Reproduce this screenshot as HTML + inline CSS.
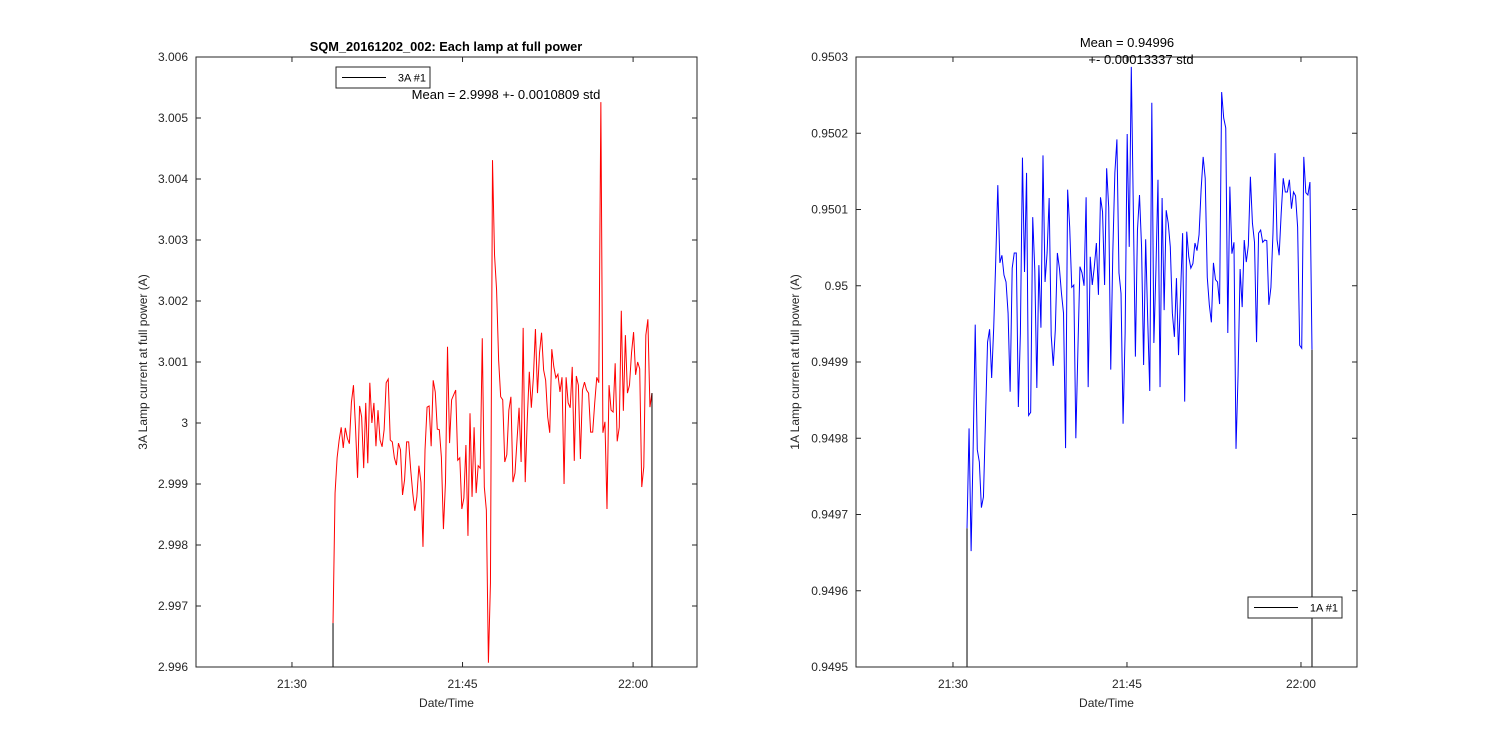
<!DOCTYPE html>
<html><head><meta charset="utf-8"><style>
html,body{margin:0;padding:0;background:#fff;}
svg{display:block;font-family:"Liberation Sans",Arial,sans-serif;}
</style></head><body>
<svg id="fig" width="1500" height="750" viewBox="0 0 1500 750" xmlns="http://www.w3.org/2000/svg">
<rect x="0" y="0" width="1500" height="750" fill="#fff"/>
<g id="left"></g>
<g id="right"></g>
</svg>
<script>
// ---- Left chart data (3A lamp) ----
const leftTimeRange = [3.61, 31.66]; // minutes after 21:30
const leftValues = [2.99672,2.99885,2.99943,2.99972,2.99993,2.99959,2.99992,2.99975,2.99966,3.00034,
3.00062,2.99993,2.99910,3.00028,3.00010,2.99926,3.00033,2.99934,3.00066,3.00000,
3.00033,2.99962,3.00021,2.99972,2.99961,2.99989,3.00066,3.00072,2.99972,2.99969,
2.99943,2.99931,2.99967,2.99956,2.99882,2.99907,2.99969,2.99969,2.99923,2.99885,
2.99856,2.99879,2.99930,2.99903,2.99797,2.99956,3.00026,3.00028,2.99962,3.00070,
3.00051,2.99990,2.99989,2.99944,2.99826,2.99902,3.00125,2.99967,3.00038,3.00046,
3.00054,2.99939,2.99943,2.99859,2.99877,2.99964,2.99815,3.00016,2.99879,2.99993,
2.99885,2.99930,2.99926,3.00139,2.99895,2.99857,2.99607,2.99738,3.00431,3.00275,
3.00218,3.00103,3.00043,
3.00038,2.99936,2.99948,3.00021,3.00043,2.99903,2.99918,2.99972,3.00025,2.99936,
3.00156,2.99903,3.00005,3.00084,3.00025,3.00075,3.00154,3.00049,3.00115,3.00148,
3.00087,3.00070,3.00010,2.99984,3.00121,3.00092,3.00074,3.00080,3.00051,3.00075,
2.99900,3.00075,3.00033,3.00025,3.00092,2.99938,3.00077,3.00062,2.99941,3.00054,
3.00067,3.00054,3.00049,2.99985,2.99985,3.00033,3.00075,3.00066,3.00526,2.99984,
3.00002,2.99859,3.00062,3.00021,3.00018,3.00098,2.99970,2.99993,3.00184,3.00020,
3.00144,3.00049,3.00062,3.00115,3.00149,3.00079,3.00100,3.00089,2.99895,2.99928,
3.00144,3.00170,3.00026,3.00049];
const leftYTicks = [2.996,2.997,2.998,2.999,3,3.001,3.002,3.003,3.004,3.005,3.006];
const leftYTickLabels = ["2.996","2.997","2.998","2.999","3","3.001","3.002","3.003","3.004","3.005","3.006"];
const xTicks = [0,15,30];
const xTickLabels = ["21:30","21:45","22:00"];

// ---- Right chart data (1A lamp) ----
const rightTimeRange = [1.21, 30.95];
const rightValues = [0.949682,0.949813,0.949652,0.949789,0.949949,0.949785,0.949769,0.949709,0.949723,0.949824,
0.949926,0.949943,0.949879,0.949945,0.950034,0.950132,0.950030,0.950040,0.950014,0.950005,
0.949964,0.949861,0.950023,0.950043,0.950043,0.949841,0.949938,0.950168,0.950018,0.950148,
0.949830,0.949834,0.950090,0.950021,0.949866,0.950027,0.949945,0.950171,0.950005,0.950043,
0.950115,0.949935,0.949895,0.949942,0.950043,0.950023,0.949990,0.949964,0.949787,0.950126,
0.950077,0.949998,0.950001,0.949800,0.949916,0.950025,0.950017,0.950000,0.950116,0.949867,
0.950038,0.950001,0.950025,0.950056,0.949988,0.950116,0.950097,0.950001,0.950154,0.950103,
0.949890,0.950044,0.950148,0.950192,0.950017,0.949990,0.949819,0.949938,0.950199,0.950051,
0.950287,
0.950099,0.949907,0.950073,0.950119,0.950051,0.949896,0.950061,0.949955,0.949862,0.950240,
0.949925,0.950021,0.950139,0.949867,0.950115,0.949968,0.950099,0.950082,0.950051,0.949964,
0.949933,0.950010,0.949909,0.949990,0.950069,0.949848,0.950071,0.950038,0.950023,0.950029,
0.950056,0.950046,0.950067,0.950126,0.950169,0.950141,0.950011,0.949975,0.949952,0.950030,
0.950008,0.950005,0.949976,0.950254,0.950220,0.950207,0.949938,0.950130,0.950042,0.950057,
0.949786,0.949883,0.950022,0.949972,0.950060,0.950031,0.950053,0.950143,0.950082,0.950057,
0.949926,0.950069,0.950073,0.950057,0.950060,0.950059,0.949975,0.949998,0.950069,0.950174,
0.950060,0.950040,0.950095,0.950141,0.950123,0.950123,0.950139,0.950101,0.950123,0.950118,
0.950077,0.949922,0.949918,0.950169,0.950122,0.950119,0.950136,0.949916];
const rightYTicks = [0.9495,0.9496,0.9497,0.9498,0.9499,0.95,0.9501,0.9502,0.9503];
const rightYTickLabels = ["0.9495","0.9496","0.9497","0.9498","0.9499","0.95","0.9501","0.9502","0.9503"];

const NS = "http://www.w3.org/2000/svg";
function mk(parent, tag, attrs, text){
  const e = document.createElementNS(NS, tag);
  for (const k in attrs) e.setAttribute(k, attrs[k]);
  if (text !== undefined) e.textContent = text;
  parent.appendChild(e);
  return e;
}

function drawChart(g, cfg){
  const L = cfg.box[0], T = cfg.box[1], R = cfg.box[2], B = cfg.box[3];
  const xs = t => L + (t - cfg.xlim[0]) / (cfg.xlim[1] - cfg.xlim[0]) * (R - L);
  const ys = v => B - (v - cfg.ylim[0]) / (cfg.ylim[1] - cfg.ylim[0]) * (B - T);
  const clip = "clip-" + cfg.id;
  const defs = mk(g, "defs", {});
  const cp = mk(defs, "clipPath", {id: clip});
  mk(cp, "rect", {x: L, y: T, width: R - L, height: B - T});

  const n = cfg.values.length;
  const t0 = cfg.trange[0], t1 = cfg.trange[1];
  let d = "";
  cfg.values.forEach((v, i) => {
    const t = t0 + i * (t1 - t0) / (n - 1);
    d += (i ? "L" : "M") + xs(t).toFixed(2) + "," + ys(v).toFixed(2);
  });
  const line = mk(g, "path", {d: d, fill: "none", stroke: cfg.color, "stroke-width": 1, "clip-path": "url(#" + clip + ")"});
  
  
  const sx = xs(t0), ex = xs(t1);
  const s1 = mk(g, "line", {x1: sx, y1: B, x2: sx, y2: ys(cfg.values[0]), stroke: "#000", "stroke-width": 1});
  
  
  const s2 = mk(g, "line", {x1: ex, y1: ys(cfg.values[n - 1]), x2: ex, y2: B, stroke: "#000", "stroke-width": 1});
  
  

  const box = mk(g, "rect", {x: L, y: T, width: R - L, height: B - T, fill: "none", stroke: "#262626", "stroke-width": 1});
  
  

  cfg.yticks.forEach((v, i) => {
    const y = ys(v);
    mk(g, "line", {x1: L, y1: y, x2: L + 5, y2: y, stroke: "#262626"});
    mk(g, "line", {x1: R, y1: y, x2: R - 5, y2: y, stroke: "#262626"});
    const tl = mk(g, "text", {x: L - 8, y: y + 4, "text-anchor": "end", "font-size": 12, fill: "#262626"}, cfg.ylabels[i]);
    
    
  });
  xTicks.forEach((t, i) => {
    const x = xs(t);
    mk(g, "line", {x1: x, y1: B, x2: x, y2: B - 5, stroke: "#262626"});
    mk(g, "line", {x1: x, y1: T, x2: x, y2: T + 5, stroke: "#262626"});
    const tl = mk(g, "text", {x: x, y: B + 21, "text-anchor": "middle", "font-size": 12, fill: "#262626"}, xTickLabels[i]);
    
    
  });
  const xl = mk(g, "text", {x: (L + R) / 2, y: 707, "text-anchor": "middle", "font-size": 12, fill: "#262626"}, "Date/Time");
  
  
  const yl = mk(g, "text", {x: 0, y: 0, "text-anchor": "middle", "font-size": 12, fill: "#262626",
    transform: "translate(" + cfg.ylabelX + "," + ((T + B) / 2) + ") rotate(-90)"}, cfg.ylabel);
  
  

  const lg = mk(g, "g", {});
  
  
  const lx = cfg.legend[0], ly = cfg.legend[1];
  mk(lg, "rect", {x: lx, y: ly, width: 94, height: 21, fill: "#fff", stroke: "#262626", "stroke-width": 1});
  mk(lg, "line", {x1: lx + 6, y1: ly + 10.5, x2: lx + 50, y2: ly + 10.5, stroke: cfg.legendColor, "stroke-width": 1});
  mk(lg, "text", {x: lx + 90, y: ly + 14.5, "text-anchor": "end", "font-size": 11, fill: "#000"}, cfg.legendText);
  return {xs, ys};
}

drawChart(document.getElementById("left"), {
  id: "left", box: [196, 57, 697, 667], xlim: [-8.44, 35.62], ylim: [2.996, 3.006],
  trange: leftTimeRange, values: leftValues, color: "#ff0000",
  yticks: leftYTicks, ylabels: leftYTickLabels,
  ylabel: "3A Lamp current at full power (A)", ylabelX: 147,
  legend: [336, 67], legendText: "3A #1", legendColor: "#000"
});
drawChart(document.getElementById("right"), {
  id: "right", box: [856, 57, 1357, 667], xlim: [-8.36, 34.83], ylim: [0.9495, 0.9503],
  trange: rightTimeRange, values: rightValues, color: "#0000ff",
  yticks: rightYTicks, ylabels: rightYTickLabels,
  ylabel: "1A Lamp current at full power (A)", ylabelX: 799,
  legend: [1248, 597], legendText: "1A #1", legendColor: "#000"
});

const svg = document.getElementById("fig");
const title = mk(svg, "text", {x: 446, y: 51, "text-anchor": "middle", "font-size": 12.8, "font-weight": "bold", fill: "#000"}, "SQM_20161202_002: Each lamp at full power");


const m1 = mk(svg, "text", {x: 506, y: 99, "text-anchor": "middle", "font-size": 13, fill: "#000"}, "Mean = 2.9998 +- 0.0010809 std");


const m2 = mk(svg, "text", {x: 1127, y: 47, "text-anchor": "middle", "font-size": 13, fill: "#000"}, "Mean = 0.94996");


const m3 = mk(svg, "text", {x: 1141, y: 64, "text-anchor": "middle", "font-size": 13, fill: "#000"}, "+- 0.00013337 std");


</script>
</body></html>
